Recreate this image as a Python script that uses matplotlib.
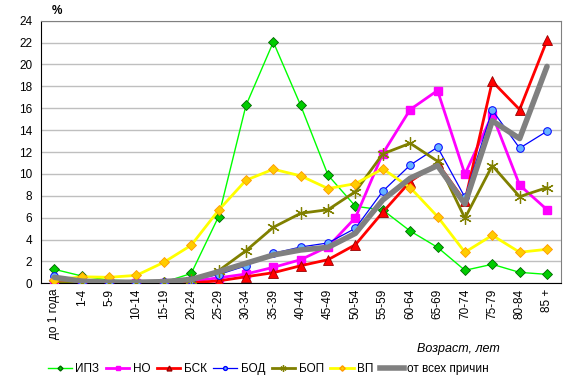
import matplotlib
matplotlib.use("Agg")
import matplotlib.pyplot as plt
from matplotlib.lines import Line2D

plt.rcParams['font.family'] = ['Liberation Sans', 'DejaVu Sans']

categories = ["до 1 года", "1-4", "5-9", "10-14", "15-19", "20-24", "25-29", "30-34",
              "35-39", "40-44", "45-49", "50-54", "55-59", "60-64", "65-69", "70-74",
              "75-79", "80-84", "85 +"]

ipz = [1.28, 0.67, 0.3, 0.2, 0.1, 0.9, 6.1, 16.25, 22.05, 16.25, 9.88, 7.04, 6.7, 4.78, 3.29, 1.19, 1.74, 1.0, 0.82]
no = [0.05, 0.0, 0.0, 0.0, 0.05, 0.2, 0.5, 0.85, 1.46, 2.16, 3.35, 6.0, 11.86, 15.88, 17.62, 9.97, 15.4, 8.97, 6.73]
bsk = [0.05, 0.0, 0.0, 0.0, 0.0, 0.05, 0.22, 0.6, 0.97, 1.61, 2.16, 3.53, 6.5, 9.3, 10.98, 7.5, 18.45, 15.88, 22.2]
bod = [0.7, 0.1, 0.05, 0.05, 0.1, 0.3, 0.8, 1.6, 2.74, 3.32, 3.69, 5.03, 8.42, 10.8, 12.44, 7.87, 15.83, 12.35, 13.9]
bop = [0.05, 0.05, 0.05, 0.05, 0.05, 0.3, 1.15, 2.98, 5.12, 6.4, 6.73, 8.38, 11.83, 12.8, 11.16, 5.95, 10.76, 7.92, 8.75]
vp = [0.3, 0.6, 0.55, 0.73, 1.92, 3.48, 6.68, 9.42, 10.43, 9.82, 8.66, 9.11, 10.46, 8.75, 6.1, 2.84, 4.39, 2.84, 3.11]
total = [0.55, 0.2, 0.1, 0.1, 0.15, 0.35, 1.06, 1.83, 2.59, 3.05, 3.29, 4.57, 7.62, 9.6, 10.76, 7.25, 14.85, 13.23, 19.82]

y_ticks = list(range(0, 25, 2))

fig = plt.figure(figsize=(5.74, 3.86), dpi=100)
ax = fig.add_axes([0.0709, 0.266, 0.9059, 0.6804])

x = list(range(len(categories)))

h_ipz, = ax.plot(x, ipz, color='#00FF00', lw=1.0, marker='D', ms=5,
                 mfc='#00CC00', mec='#006600', mew=0.6, zorder=3, label='ИПЗ')
h_no, = ax.plot(x, no, color='#FF00FF', lw=2.0, marker='s', ms=6,
                mfc='#FF00FF', mec='#FF00FF', zorder=4, label='НО')
h_bsk, = ax.plot(x, bsk, color='#FF0000', lw=2.0, marker='^', ms=7,
                 mfc='#FF0000', mec='#990000', mew=0.6, zorder=5, label='БСК')
h_bod, = ax.plot(x, bod, color='#0000FF', lw=0.9, marker='o', ms=5.5,
                 mfc='#66B3FF', mec='#0000FF', mew=0.7, zorder=6, label='БОД')
h_bop, = ax.plot(x, bop, color='#808000', lw=2.0, marker=(6, 2, 0), ms=9,
                 mec='#808000', mew=0.9, zorder=7, label='БОП')
h_vp, = ax.plot(x, vp, color='#FFFF00', lw=2.0, marker='D', ms=5.5,
                mfc='#FFCC00', mec='#FF9900', mew=0.6, zorder=8, label='ВП')
h_tot, = ax.plot(x, total, color='#808080', lw=4.0, zorder=9, label='от всех причин',
                 solid_capstyle='round', solid_joinstyle='round')

ax.set_xlim(-0.5, len(categories) - 0.5)
ax.set_ylim(0, 24)
ax.set_yticks(y_ticks)
ax.set_yticklabels([str(t) for t in y_ticks], fontsize=8.5)
ax.set_xticks(x)
ax.set_xticklabels(categories, rotation=90, fontsize=8.5)
ax.tick_params(axis='both', length=0, pad=4)
ax.tick_params(axis='y', pad=6)
ax.yaxis.grid(True, color='#BFBFBF', lw=1.0, zorder=0)
ax.set_axisbelow(True)
for s in ['top', 'right']:
    ax.spines[s].set_color('#808080')
for s in ['left', 'bottom']:
    ax.spines[s].set_color('#000000')

fig.text(0.090, 0.955, '%', fontsize=8.5, fontweight='bold', ha='left', va='bottom')
fig.text(0.870, 0.096, 'Возраст, лет', fontsize=9, style='italic', ha='right', va='center')

handles = [h_ipz, h_no, h_bsk, h_bod, h_bop, h_vp, h_tot]
legend_handles = []
for h in handles:
    legend_handles.append(Line2D([], [], color=h.get_color(), lw=h.get_linewidth(),
                                 marker=h.get_marker(), ms=h.get_markersize() * 0.5,
                                 mfc=h.get_markerfacecolor(), mec=h.get_markeredgecolor(),
                                 label=h.get_label()))
fig.legend(handles=legend_handles, loc='center', bbox_to_anchor=(0.468, 0.044), ncol=7,
           frameon=False, fontsize=8.5, handlelength=2.0, handletextpad=0.3,
           columnspacing=0.55, borderpad=0.0)

fig.savefig('out.png', dpi=100)
